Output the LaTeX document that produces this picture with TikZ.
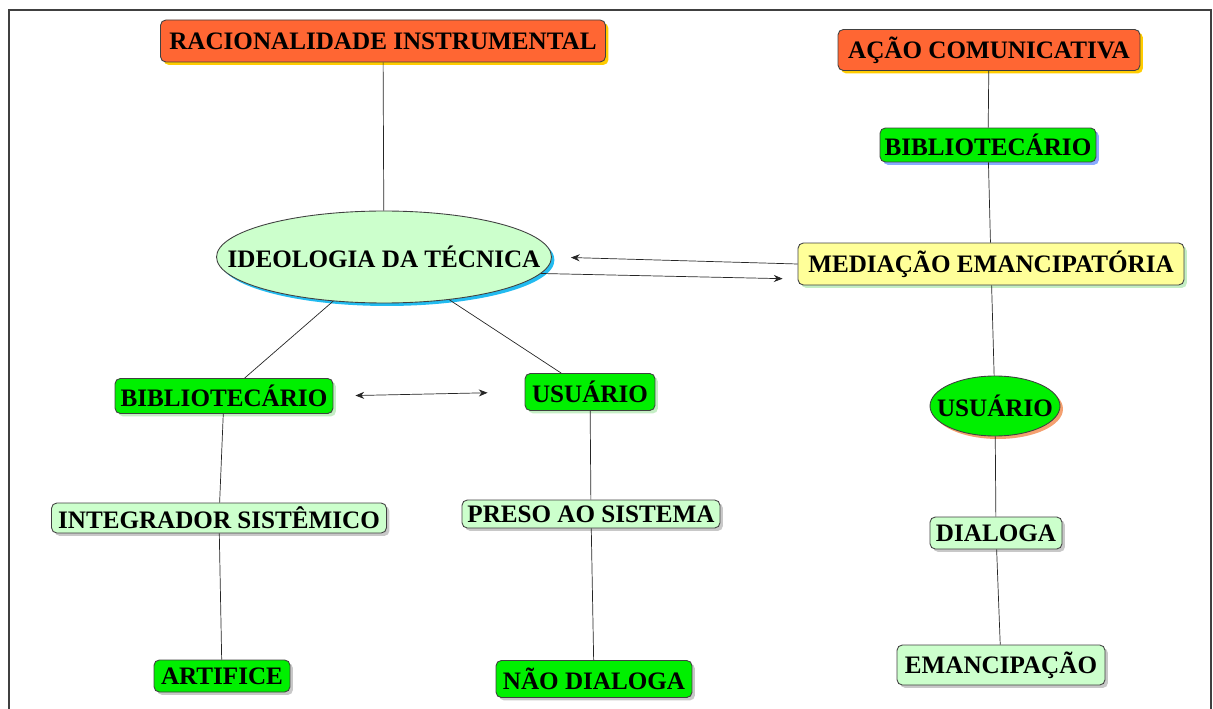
\documentclass[tikz,border=0pt]{standalone}
\usepackage{fontspec}
\setmainfont{Liberation Serif}
\usetikzlibrary{shapes.geometric,shadows,arrows.meta}

\definecolor{titleorange}{HTML}{FF6633}
\definecolor{titleshadow}{HTML}{FFCC00}
\definecolor{brightgreen}{HTML}{00F000}
\definecolor{palegreen}{HTML}{CCFFCC}
\definecolor{paleyellow}{HTML}{FFFF99}
\definecolor{skyshadow}{HTML}{22BBF0}
\definecolor{blueshadow}{HTML}{88AAFF}
\definecolor{salmonshadow}{HTML}{F4A070}
\definecolor{mintshadow}{HTML}{C4EEC4}
\definecolor{greyshadow}{HTML}{C8C8C8}

\tikzset{
  concept/.style={draw=black!75, line width=0.5pt, inner sep=0pt,
    font=\bfseries\fontsize{14.3}{16}\selectfont},
  box/.style={concept, rounded corners=3pt},
  oval/.style={concept, ellipse, inner xsep=-1cm},
  casts/.style={general shadow={fill=#1, shadow xshift=1.7pt, shadow yshift=-1.7pt}},
  link/.style={black!85, line width=0.4pt},
  tip/.style={-{Stealth[length=5pt, width=4pt]}},
}

\begin{document}
\begin{tikzpicture}[x=0.02cm, y=-0.02cm]
  \useasboundingbox (0,0) rectangle (1213,709);
  \draw[black!75, line width=0.9pt] (9,715) -- (9,10) -- (1211,10) -- (1211,715);

  % left side
  \node[box, fill=titleorange, casts=titleshadow, minimum width=8.9cm, minimum height=0.84cm]
    (racional) at (383,41) {RACIONALIDADE INSTRUMENTAL};
  \node[oval, fill=palegreen, casts=skyshadow, minimum width=6.7cm, minimum height=1.84cm]
    (ideologia) at (384,257) {IDEOLOGIA DA TÉCNICA};
  \node[box, fill=brightgreen, casts=mintshadow, minimum width=4.36cm, minimum height=0.7cm]
    (bibl) at (224,396) {BIBLIOTECÁRIO};
  \node[box, fill=brightgreen, casts=mintshadow, minimum width=2.6cm, minimum height=0.74cm]
    (usuario) at (590,392) {USUÁRIO};
  \node[box, fill=palegreen, casts=greyshadow, minimum width=6.7cm, minimum height=0.6cm]
    (integrador) at (219,518) {INTEGRADOR SISTÊMICO};
  \node[box, fill=palegreen, casts=greyshadow, minimum width=5.16cm, minimum height=0.56cm]
    (preso) at (591,514) {PRESO AO SISTEMA};
  \node[box, fill=brightgreen, casts=greyshadow, minimum width=2.72cm, minimum height=0.64cm]
    (artifice) at (222,676) {ARTIFICE};
  \node[box, fill=brightgreen, casts=greyshadow, minimum width=3.92cm, minimum height=0.74cm]
    (naodialoga) at (594,679) {NÃO DIALOGA};

  % right side
  \node[box, fill=titleorange, casts=titleshadow, minimum width=6.04cm, minimum height=0.82cm]
    (acao) at (989,50) {AÇÃO COMUNICATIVA};
  \node[box, fill=brightgreen, casts=blueshadow, minimum width=4.32cm, minimum height=0.68cm]
    (bibr) at (988,145) {BIBLIOTECÁRIO};
  \node[box, fill=paleyellow, casts=mintshadow, minimum width=7.72cm, minimum height=0.84cm]
    (mediacao) at (991,264) {MEDIAÇÃO EMANCIPATÓRIA};
  \node[oval, fill=brightgreen, casts=salmonshadow, minimum width=2.6cm, minimum height=1.2cm]
    (usuarior) at (995,406) {USUÁRIO};
  \node[box, fill=palegreen, casts=greyshadow, minimum width=2.64cm, minimum height=0.64cm]
    (dialoga) at (996,533) {DIALOGA};
  \node[box, fill=palegreen, casts=greyshadow, minimum width=4.16cm, minimum height=0.8cm]
    (emancipacao) at (1001,665) {EMANCIPAÇÃO};

  \begin{scope}[link]
    \draw (racional) to (ideologia);
    \draw (ideologia) to (bibl);
    \draw (ideologia) to (usuario);
    \draw (bibl) to (integrador);
    \draw (integrador) to (artifice);
    \draw (usuario) to (preso);
    \draw (preso) to (naodialoga);
    \draw (acao) to (bibr);
    \draw (bibr) to (mediacao);
    \draw (mediacao) to (usuarior);
    \draw (usuarior) to (dialoga);
    \draw (dialoga) to (emancipacao);
  \end{scope}

  \begin{scope}[link]
    \draw[tip, shorten >=0.38cm] (mediacao.west) to (ideologia.east);
    \draw[tip, shorten >=0.3cm] (ideologia.-6) to ([yshift=-0.3cm]mediacao.west);
    \draw[{Stealth[length=5pt, width=4pt]}-{Stealth[length=5pt, width=4pt]},
      shorten <=0.44cm, shorten >=0.74cm] (bibl.east) to (usuario.west);
  \end{scope}
\end{tikzpicture}
\end{document}
